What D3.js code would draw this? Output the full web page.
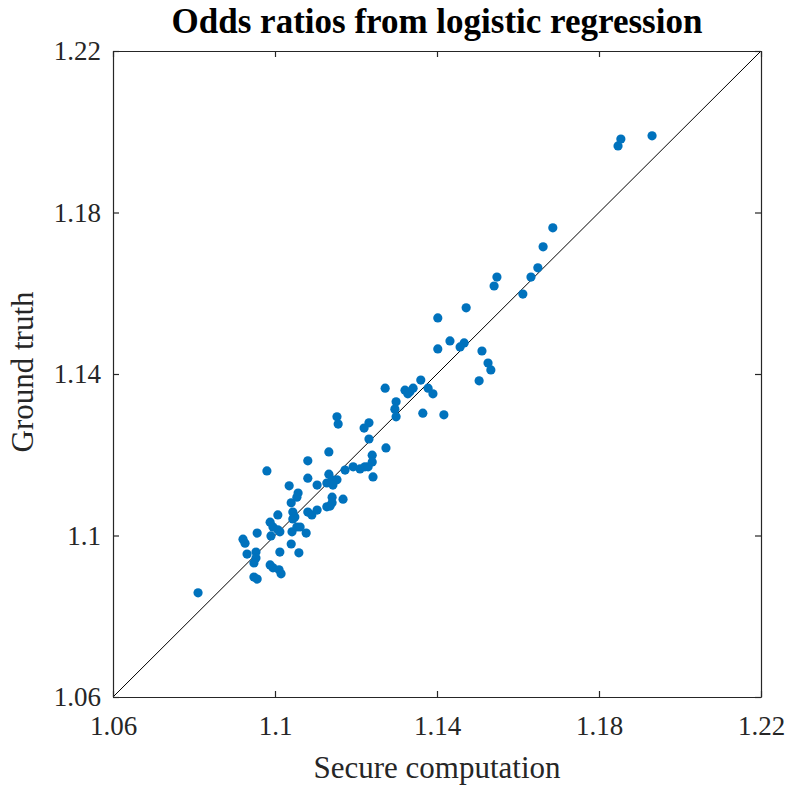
<!DOCTYPE html>
<html>
<head>
<meta charset="utf-8">
<script src="https://cdn.jsdelivr.net/npm/d3@7"></script>
<style>
  body { margin: 0; background: #fff; }
  text { font-family: "Liberation Serif", "Times New Roman", serif; fill: #262626; }
</style>
</head>
<body>
<div id="chart"></div>
<script>
// values
var secure = [1.0810, 1.0921, 1.0926, 1.0931, 1.0953, 1.0953, 1.0948, 1.0948, 1.0956, 1.0956,
  1.0980, 1.0988, 1.0995, 1.1007, 1.1012, 1.0990, 1.0988, 1.0995, 1.1010, 1.1015,
  1.1007, 1.1012, 1.1040, 1.1042, 1.1054, 1.1062, 1.1077, 1.1059, 1.1044, 1.1049,
  1.1044, 1.1035, 1.1040, 1.1057, 1.1054, 1.1081, 1.1081, 1.1081, 1.1091, 1.1104,
  1.1104, 1.1128, 1.1128, 1.1136, 1.1133, 1.1141, 1.1153, 1.1143, 1.1141, 1.1141,
  1.1168, 1.1133, 1.1153, 1.1156, 1.1173, 1.1193, 1.1210, 1.1222, 1.1230, 1.1240,
  1.1240, 1.1242, 1.1232, 1.1232, 1.1220, 1.1274, 1.1272, 1.1299, 1.1296, 1.1299,
  1.1321, 1.1333, 1.1341, 1.1328, 1.1360, 1.1378, 1.1390, 1.1365, 1.1417, 1.1504,
  1.1526, 1.1533, 1.1511, 1.1402, 1.1432, 1.1467, 1.1457, 1.1402, 1.1472, 1.1541,
  1.1548, 1.1612, 1.1632, 1.1649, 1.1662, 1.1686, 1.1847, 1.1854, 1.1931]
var truth = [1.0858, 1.0991, 1.0981, 1.0954, 1.0959, 1.0944, 1.0932, 1.0897, 1.0892, 1.1006,
  1.1160, 1.1033, 1.1021, 1.1014, 1.1009, 1.0999, 1.0927, 1.0920, 1.0915, 1.0905,
  1.1051, 1.0959, 1.0979, 1.1009, 1.1021, 1.1021, 1.1006, 1.0957, 1.1058, 1.1046,
  1.1041, 1.1123, 1.1081, 1.1105, 1.1095, 1.1142, 1.1185, 1.1058, 1.1051, 1.1063,
  1.1125, 1.1130, 1.1071, 1.1073, 1.1152, 1.1138, 1.1138, 1.1125, 1.1095, 1.1081,
  1.1090, 1.1207, 1.1294, 1.1276, 1.1162, 1.1170, 1.1165, 1.1170, 1.1170, 1.1199,
  1.1182, 1.1145, 1.1239, 1.1279, 1.1266, 1.1217, 1.1365, 1.1331, 1.1313, 1.1294,
  1.1360, 1.1356, 1.1365, 1.1351, 1.1385, 1.1365, 1.1351, 1.1303, 1.1299, 1.1383,
  1.1427, 1.1410, 1.1457, 1.1462, 1.1482, 1.1477, 1.1467, 1.1539, 1.1564, 1.1618,
  1.1640, 1.1598, 1.1640, 1.1663, 1.1715, 1.1762, 1.1965, 1.1982, 1.1990]
var tickValues = [1.06, 1.1, 1.14, 1.18, 1.22]
var tickLabels = ["1.06", "1.1", "1.14", "1.18", "1.22"]

var margin = {top: 51, right: 25, bottom: 88, left: 113}
var width = 786 - margin.left - margin.right
var height = 785 - margin.top - margin.bottom

var svg = d3.select("#chart").append("svg")
    .attr("width", 786)
    .attr("height", 785)

var g = svg.append("g")
    .attr("transform", "translate(" + margin.left + "," + margin.top + ")")

var x = d3.scaleLinear().domain([1.06, 1.22]).range([0, width])
var y = d3.scaleLinear().domain([1.06, 1.22]).range([height, 0])

// identity line
g.append("line")
    .attr("x1", x(1.06)).attr("y1", y(1.06))
    .attr("x2", x(1.22)).attr("y2", y(1.22))
    .attr("stroke", "#000")
    .attr("stroke-width", 1)

var points = secure.map(function(d, i){ return {x: d, y: truth[i]} })

g.selectAll("circle.pt")
    .data(points)
  .enter()
    .append("circle")
    .attr("class", "pt")
    .attr("cx", function(d){ return x(d.x) })
    .attr("cy", function(d){ return y(d.y) })
    .attr("r", 4.6)
    .attr("fill", "#0072BD")

function fmt(d){ return tickLabels[tickValues.indexOf(d)] }

// axes, ticks pointing inward
var xBottom = g.append("g").attr("transform", "translate(0," + height + ")")
    .call(d3.axisBottom(x).tickValues(tickValues).tickFormat(fmt).tickSizeInner(-6).tickSizeOuter(0).tickPadding(19))
var xTop = g.append("g")
    .call(d3.axisTop(x).tickValues(tickValues).tickFormat("").tickSizeInner(-6).tickSizeOuter(0))
var yLeft = g.append("g")
    .call(d3.axisLeft(y).tickValues(tickValues).tickFormat(fmt).tickSizeInner(-6).tickSizeOuter(0).tickPadding(12))
var yRight = g.append("g").attr("transform", "translate(" + width + ",0)")
    .call(d3.axisRight(y).tickValues(tickValues).tickFormat("").tickSizeInner(-6).tickSizeOuter(0))

svg.selectAll(".domain, .tick line").attr("stroke", "#262626").attr("stroke-width", 1.2)
svg.selectAll(".tick text")
    .attr("font-family", "Liberation Serif, serif")
    .attr("font-size", 27)
    .attr("fill", "#262626")

// titles
svg.append("text")
    .attr("x", margin.left + width / 2)
    .attr("y", 33)
    .attr("text-anchor", "middle")
    .attr("font-size", 35)
    .attr("font-weight", "bold")
    .style("fill", "#000")
    .text("Odds ratios from logistic regression")

svg.append("text")
    .attr("x", margin.left + width / 2)
    .attr("y", 778)
    .attr("text-anchor", "middle")
    .attr("font-size", 31)
    .text("Secure computation")

svg.append("text")
    .attr("transform", "translate(33," + 372 + ") rotate(-90)")
    .attr("text-anchor", "middle")
    .attr("font-size", 31)
    .text("Ground truth")
</script>
</body>
</html>
